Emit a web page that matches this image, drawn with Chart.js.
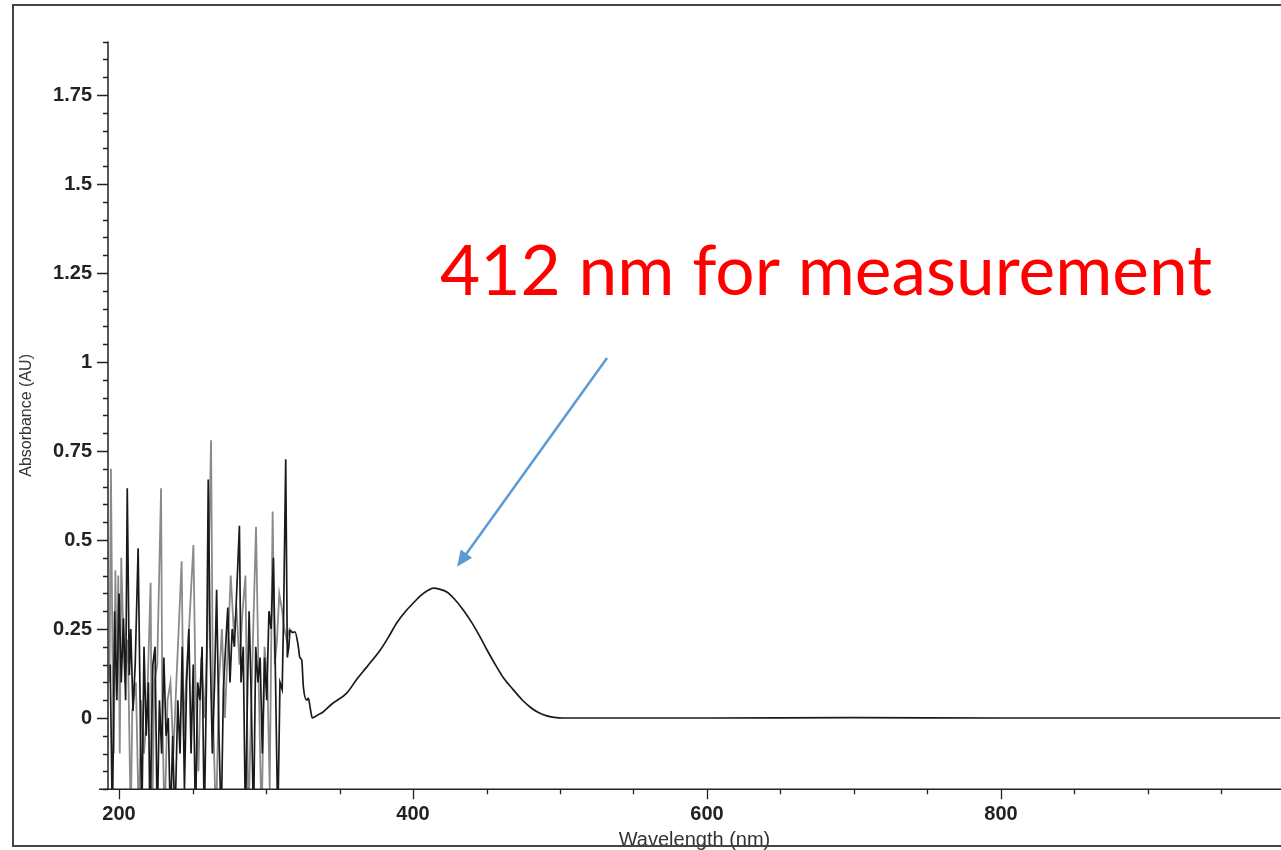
<!DOCTYPE html>
<html><head><meta charset="utf-8">
<script src="https://cdn.jsdelivr.net/npm/chart.js@4/dist/chart.umd.min.js"></script>
<style>html,body{margin:0;padding:0;background:#fff;overflow:hidden}canvas{display:block}</style>
</head><body>
<canvas id="c" width="1281" height="850"></canvas>
<script>
// ---- axis settings / tick labels ----
const xMin = 192.5, xMax = 990.5;
const yMin = -0.2, yMax = 1.9;
const xMajorLabels = [200, 400, 600, 800];
const xMinorStep = 50;
const yMajorLabels = ['0', '0.25', '0.5', '0.75', '1', '1.25', '1.5', '1.75'];
const yMinorStep = 0.05;

// ---- black trace, noisy UV region ----
const noiseBlackWl = [194,195.5,197,198.5,200,201.5,203,204.5,205.6,207,208,209.5,211,213,214.5,215.5,217,218.5,220,221,223,224.5,226,227.5,229,230.5,232,233.5,235,236.5,238,240,241.5,243,244.5,246,247.5,249,250.5,252,253.5,255,256.5,258,259.5,260.7,262,263.5,265,266.4,268,269.5,271,272.5,274,275.5,277,278.5,280,281.9,283,284.5,286,287.5,288.5,290,291.5,293,294.5,296,297.5,299,300.5,302,303.5,305,306.5,308,309.5,311,312,313.4,314.5,315.5,316.3];
const noiseBlackAbs = [0.15,-0.3,0.3,0.05,0.35,0.1,0.28,0.05,0.645,0.12,0.25,0.02,0.15,0.477,0.0,-0.3,0.2,-0.05,0.1,-0.3,0.15,0.2,-0.3,0.05,-0.1,0.17,-0.05,0.0,-0.3,-0.05,-0.3,0.05,-0.1,0.2,-0.2,0.1,0.25,-0.1,0.15,-0.3,0.1,0.05,0.2,-0.3,0.1,0.67,0.2,-0.1,0.1,0.36,-0.05,-0.3,0.08,0.2,0.31,0.1,0.25,0.2,0.35,0.54,0.1,0.2,-0.3,0.1,0.3,0.05,-0.3,0.2,0.1,0.17,-0.1,0.17,0.05,0.3,0.25,0.45,0.1,-0.3,0.1,0.08,0.3,0.727,0.17,0.2,0.247];

// ---- black trace, smooth shoulder + visible band ----
const bandWl = [316.3,318,319.7,322,323,324.3,325.4,327.7,328.8,330,331.5,333,335,338.8,345,354.9,362,368.5,377.6,383,388.9,395,400.2,405,410,413.8,418,423,428,434.3,440,445.6,451,457,462,468.3,474,479.6,485,491,496,502,550,600,700,800,900,990];
const bandAbs = [0.247,0.24,0.242,0.2,0.17,0.163,0.088,0.05,0.056,0.03,0.0,0.003,0.008,0.017,0.04,0.07,0.11,0.143,0.19,0.225,0.267,0.3,0.323,0.343,0.358,0.365,0.362,0.354,0.335,0.303,0.268,0.228,0.186,0.143,0.11,0.079,0.052,0.031,0.016,0.006,0.002,0.0,0.0,0.0,0.001,0.0,0.0,0.0];

// ---- grey trace (overlapping noisy UV region) ----
const greyWl = [193.5,194.5,195.5,196.5,197.5,198.5,199.5,200.5,201.5,202.5,204,206,208,209,211.5,213.5,215,217,219,221.5,222.5,224,226,228.6,229.5,231,233,235,237,239,242.6,244,245.5,247,250.6,252,254,256,258,260,262.6,264,266,268,270,272,274,276,278,280,282,284,286,288,290,293.2,295,297,299,301,302.5,304.5,306,307.5,309,311,312.5,314,316,318];
const greyAbs = [0.1,0.70,0.2,-0.1,0.415,0.1,0.4,-0.1,0.45,0.3,0.1,0.22,-0.3,0.02,0.1,-0.3,0.05,-0.1,0.02,0.38,-0.3,0.1,0.15,0.645,0.0,-0.3,0.05,0.1,-0.1,0.1,0.44,-0.05,0.1,0.2,0.486,0.1,-0.15,0.17,0.0,0.2,0.78,0.0,-0.3,0.1,0.25,0.0,0.2,0.4,0.25,0.3,0.15,0.3,0.4,-0.3,0.05,0.537,0.1,-0.3,0.2,0.1,-0.2,0.58,0.15,0.22,0.35,0.3,0.25,0.22,0.25,0.24];

// ---- annotation ----
const annotationText = '412 nm for measurement';

const toPts = (xs, ys) => xs.map((v, i) => ({x: v, y: ys[i]}));
const fmtY = v => String(Math.round(v * 100) / 100);
const isMajorY = v => yMajorLabels.includes(fmtY(v));

const decor = {
  id: 'decor',
  afterDraw(chart) {
    const {ctx, chartArea: a, scales: {x, y}} = chart;
    ctx.save();
    ctx.strokeStyle = '#222';
    ctx.lineWidth = 1.5;
    ctx.beginPath();
    ctx.moveTo(a.left, a.top); ctx.lineTo(a.left, a.bottom);
    ctx.moveTo(a.left - 9, a.bottom); ctx.lineTo(a.right, a.bottom);
    ctx.stroke();
    ctx.lineWidth = 1.3;
    ctx.beginPath();
    y.ticks.forEach(t => {
      const py = Math.round(y.getPixelForValue(t.value)) + 0.5;
      const len = isMajorY(t.value) ? 11 : 5;
      ctx.moveTo(a.left - len, py); ctx.lineTo(a.left, py);
    });
    x.ticks.forEach(t => {
      const px = Math.round(x.getPixelForValue(t.value)) + 0.5;
      const len = xMajorLabels.includes(t.value) ? 10 : 5;
      ctx.moveTo(px, a.bottom); ctx.lineTo(px, a.bottom + len);
    });
    ctx.stroke();

    // annotation text
    const tx = x.getPixelForValue(418.4), ty = y.getPixelForValue(1.188);
    ctx.font = '100px Lato';
    const w = ctx.measureText(annotationText).width;
    const fs = 100 * 772 / w;
    ctx.font = fs.toFixed(2) + 'px Lato';
    ctx.fillStyle = '#ff0000';
    ctx.textBaseline = 'alphabetic';
    ctx.textAlign = 'left';
    ctx.fillText(annotationText, tx, ty);

    // arrow
    const x1 = x.getPixelForValue(532), y1 = y.getPixelForValue(1.011);
    const x2 = x.getPixelForValue(430), y2 = y.getPixelForValue(0.425);
    const ang = Math.atan2(y2 - y1, x2 - x1);
    const headL = 16, headW = 7;
    ctx.strokeStyle = '#5b9bd5';
    ctx.fillStyle = '#5b9bd5';
    ctx.lineWidth = 2.5;
    ctx.beginPath();
    ctx.moveTo(x1, y1);
    ctx.lineTo(x2 - Math.cos(ang) * headL * 0.8, y2 - Math.sin(ang) * headL * 0.8);
    ctx.stroke();
    ctx.beginPath();
    ctx.moveTo(x2, y2);
    ctx.lineTo(x2 - Math.cos(ang) * headL - Math.sin(ang) * headW, y2 - Math.sin(ang) * headL + Math.cos(ang) * headW);
    ctx.lineTo(x2 - Math.cos(ang) * headL + Math.sin(ang) * headW, y2 - Math.sin(ang) * headL - Math.cos(ang) * headW);
    ctx.closePath();
    ctx.fill();

    // scanned frame
    ctx.strokeStyle = '#444';
    ctx.lineWidth = 2;
    ctx.beginPath();
    ctx.moveTo(1281, 5); ctx.lineTo(13, 5); ctx.lineTo(13, 846); ctx.lineTo(1281, 846);
    ctx.stroke();
    ctx.restore();
  }
};

new Chart(document.getElementById('c'), {
  type: 'line',
  data: {
    datasets: [
      {label: 'grey', data: toPts(greyWl, greyAbs), borderColor: '#8a8a8a', borderWidth: 1.8, pointRadius: 0, tension: 0, order: 3},
      {label: 'black noise', data: toPts(noiseBlackWl, noiseBlackAbs), borderColor: '#1a1a1a', borderWidth: 1.7, pointRadius: 0, tension: 0, order: 2},
      {label: 'band', data: toPts(bandWl, bandAbs), borderColor: '#1a1a1a', borderWidth: 1.7, pointRadius: 0, cubicInterpolationMode: 'monotone', order: 1}
    ]
  },
  options: {
    responsive: false,
    animation: false,
    events: [],
    layout: {padding: {top: 41.6, left: 0, right: 0, bottom: 0}},
    plugins: {legend: {display: false}, tooltip: {enabled: false}},
    scales: {
      x: {
        type: 'linear', min: xMin, max: xMax,
        afterFit: s => { s.height = 850 - 789.2; },
        afterBuildTicks: s => {
          const t = [];
          for (let v = 200; v <= xMax; v += xMinorStep) t.push({value: v});
          s.ticks = t;
        },
        grid: {display: false, drawTicks: false},
        border: {display: false},
        ticks: {
          autoSkip: false, maxRotation: 0, padding: 13,
          color: '#222', font: {family: 'Liberation Sans', size: 20, weight: 'bold'},
          callback: v => xMajorLabels.includes(v) ? String(v) : ''
        },
        title: {display: true, text: 'Wavelength (nm)', color: '#333',
          font: {family: 'Liberation Sans', size: 20, lineHeight: 1}, padding: {top: 0, bottom: 0}}
      },
      y: {
        type: 'linear', min: yMin, max: yMax,
        afterFit: s => { s.width = 108; },
        afterBuildTicks: s => {
          const t = [];
          for (let i = Math.round(yMin / yMinorStep); i <= Math.round(yMax / yMinorStep); i++) t.push({value: Math.round(i * yMinorStep * 100) / 100});
          s.ticks = t;
        },
        grid: {display: false, drawTicks: false},
        border: {display: false},
        ticks: {
          autoSkip: false, padding: 16,
          color: '#222', font: {family: 'Liberation Sans', size: 20, weight: 'bold'},
          callback: v => isMajorY(v) ? fmtY(v) : ''
        },
        title: {display: true, text: 'Absorbance (AU)', color: '#333',
          font: {family: 'Liberation Sans', size: 16}, padding: {top: 17, bottom: 0}}
      }
    }
  },
  plugins: [decor]
});
</script>
</body></html>
